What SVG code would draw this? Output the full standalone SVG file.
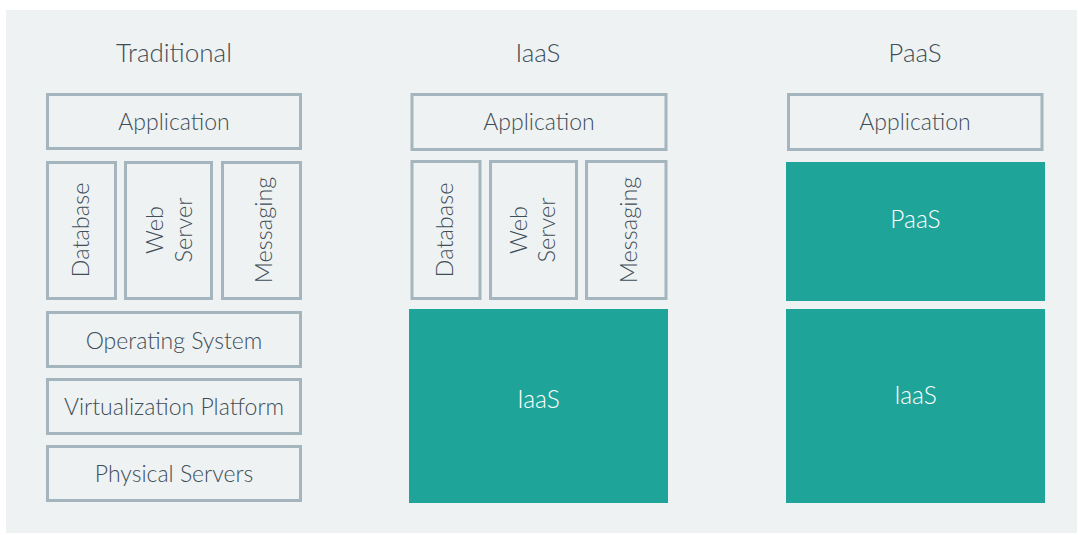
<svg xmlns="http://www.w3.org/2000/svg" width="1078" height="535" viewBox="0 0 1078 535">
<style>
.panel{fill:#eff2f3}
.box{fill:#eff2f3;stroke:#a5b5bd;stroke-width:3}
.teal{fill:#1fa499}
.t{font-family:Lato,"Open Sans","Noto Sans",sans-serif;font-weight:300;fill:#3e4e57;text-anchor:middle}
.title{font-size:26px}
.lbl{font-size:23px}
.vl{font-size:23.5px}
.w{fill:#ffffff;font-size:24.5px}
</style>
<rect width="1078" height="535" fill="#ffffff"/>
<rect class="panel" x="6" y="10" width="1071" height="523"/>
<g id="titles">
<text class="t title" x="174" y="62">Traditional</text>
<text class="t title" x="538" y="62">IaaS</text>
<text class="t title" x="915" y="62">PaaS</text>
</g>
<g id="trad-app"><rect class="box" x="47.5" y="94.5" width="253" height="54"/><text class="t lbl" x="174" y="130">Application</text></g>
<g id="trad-db"><rect class="box" x="47.5" y="162.5" width="68" height="136"/><text class="t vl" transform="translate(89.3,230) rotate(-90)">Database</text></g>
<g id="trad-web"><rect class="box" x="125.5" y="162.5" width="86" height="136"/><text class="t vl" transform="translate(163.3,230) rotate(-90)">Web</text><text class="t vl" transform="translate(191.7,230) rotate(-90)">Server</text></g>
<g id="trad-msg"><rect class="box" x="222.5" y="162.5" width="78" height="136"/><text class="t vl" transform="translate(271.5,230) rotate(-90)">Messaging</text></g>
<g id="trad-os"><rect class="box" x="47.5" y="312.5" width="253" height="54"/><text class="t lbl" x="174" y="348.5">Operating System</text></g>
<g id="trad-virt"><rect class="box" x="47.5" y="379.5" width="253" height="54"/><text class="t lbl" x="174" y="415">Virtualization Platform</text></g>
<g id="trad-phys"><rect class="box" x="47.5" y="446.5" width="253" height="54"/><text class="t lbl" x="174" y="481.7">Physical Servers</text></g>
<g id="iaas-app"><rect class="box" x="412" y="94.5" width="254" height="55"/><text class="t lbl" x="539" y="130">Application</text></g>
<g id="iaas-db"><rect class="box" x="412" y="161.5" width="68" height="137"/><text class="t vl" transform="translate(453.3,230) rotate(-90)">Database</text></g>
<g id="iaas-web"><rect class="box" x="490.5" y="161.5" width="86" height="137"/><text class="t vl" transform="translate(526.7,230) rotate(-90)">Web</text><text class="t vl" transform="translate(555,230) rotate(-90)">Server</text></g>
<g id="iaas-msg"><rect class="box" x="586.5" y="161.5" width="79.5" height="137"/><text class="t vl" transform="translate(637,230) rotate(-90)">Messaging</text></g>
<g id="iaas-iaas"><rect class="teal" x="409" y="309" width="259" height="194"/><text class="t w" x="538.5" y="408.3">IaaS</text></g>
<g id="paas-app"><rect class="box" x="788.5" y="94.5" width="253.5" height="55"/><text class="t lbl" x="915" y="130">Application</text></g>
<g id="paas-paas"><rect class="teal" x="786" y="162" width="259" height="139"/><text class="t w" x="915.5" y="228.3">PaaS</text></g>
<g id="paas-iaas"><rect class="teal" x="786" y="309" width="259" height="194"/><text class="t w" x="915.5" y="404">IaaS</text></g>
<g id="connectors"></g>
</svg>
